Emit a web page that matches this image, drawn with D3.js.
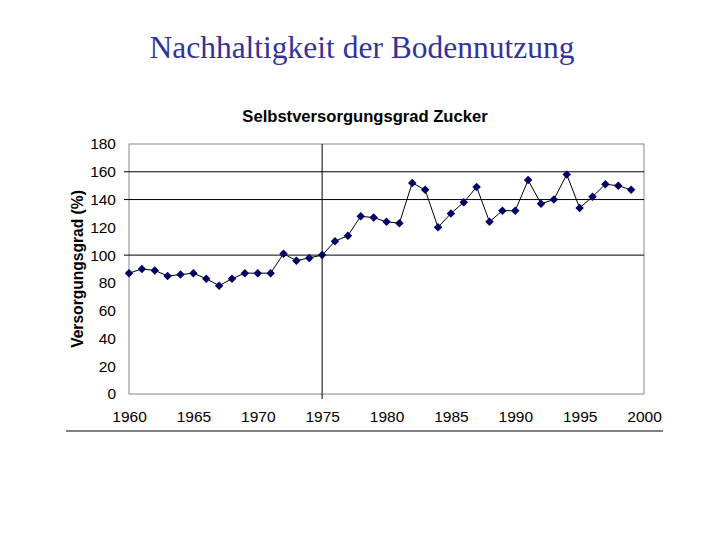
<!DOCTYPE html>
<html>
<head>
<meta charset="utf-8">
<script src="https://cdn.jsdelivr.net/npm/d3@7"></script>
<style>
  body { margin: 0; background: #fff; }
</style>
</head>
<body>
<div id="chart"></div>
<script>
// Selbstversorgungsgrad Zucker, 1960-1999 (%)
const years = d3.range(1960, 2000);
const values = [87, 90, 89, 85, 86, 87, 83, 78, 83, 87,
                87, 87, 101, 96, 98, 100, 110, 114, 128, 127,
                124, 123, 152, 147, 120, 130, 138, 149, 124, 132,
                132, 154, 137, 140, 158, 134, 142, 151, 150, 147];
const yTicks = [0, 20, 40, 60, 80, 100, 120, 140, 160, 180];
const xTicks = [1960, 1965, 1970, 1975, 1980, 1985, 1990, 1995, 2000];
const gridValues = [100, 140, 160];
const markYear = 1975;

const width = 720, height = 540;
const m = { left: 129, right: 644, top: 144, bottom: 394 };

const svg = d3.select("#chart").append("svg")
  .attr("width", width)
  .attr("height", height);

const x = d3.scaleLinear().domain([1960, 2000]).range([m.left, m.right]);
const y = d3.scaleLinear().domain([0, 180]).range([m.bottom, m.top]);

// Folientitel
svg.append("text")
  .attr("x", 362).attr("y", 58)
  .attr("text-anchor", "middle")
  .attr("font-family", "Liberation Serif, Times New Roman, serif")
  .attr("font-size", 31.5)
  .attr("fill", "#333399")
  .text("Nachhaltigkeit der Bodennutzung");

// Diagrammtitel
svg.append("text")
  .attr("x", 365).attr("y", 122)
  .attr("text-anchor", "middle")
  .attr("font-family", "Liberation Sans, Arial, sans-serif")
  .attr("font-weight", "bold")
  .attr("font-size", 16.6)
  .text("Selbstversorgungsgrad Zucker");

// Rahmen
svg.append("rect")
  .attr("x", m.left).attr("y", m.top)
  .attr("width", m.right - m.left).attr("height", m.bottom - m.top)
  .attr("fill", "none")
  .attr("stroke", "#888")
  .attr("stroke-width", 1);

// Gitterlinien
svg.selectAll(".grid")
  .data(gridValues)
  .enter().append("line")
  .attr("x1", m.left - 5).attr("x2", m.right)
  .attr("y1", d => y(d)).attr("y2", d => y(d))
  .attr("stroke", "#000")
  .attr("stroke-width", 1);

svg.append("line")
  .attr("x1", x(markYear)).attr("x2", x(markYear))
  .attr("y1", m.top).attr("y2", m.bottom + 5)
  .attr("stroke", "#000")
  .attr("stroke-width", 1);

// y-Achse
const yAxis = svg.append("g")
  .attr("transform", `translate(${m.left},0)`)
  .call(d3.axisLeft(y).tickValues(yTicks).tickSize(0).tickPadding(13));
yAxis.select(".domain").remove();
yAxis.selectAll("text")
  .attr("font-family", "Liberation Sans, Arial, sans-serif")
  .attr("font-size", 15.5)
  .attr("fill", "#000");

// x-Achse
const xAxis = svg.append("g")
  .attr("transform", `translate(0,${m.bottom})`)
  .call(d3.axisBottom(x).tickValues(xTicks).tickFormat(d3.format("d")).tickSize(0).tickPadding(17));
xAxis.select(".domain").remove();
xAxis.selectAll("text")
  .attr("font-family", "Liberation Sans, Arial, sans-serif")
  .attr("font-size", 15.5)
  .attr("fill", "#000");

// y-Achsentitel
svg.append("text")
  .attr("transform", `translate(83,${(m.top + m.bottom) / 2}) rotate(-90)`)
  .attr("text-anchor", "middle")
  .attr("font-family", "Liberation Sans, Arial, sans-serif")
  .attr("font-weight", "bold")
  .attr("font-size", 15.6)
  .text("Versorgungsgrad (%)");

// Datenreihe
const series = years.map((yr, i) => ({ year: yr, value: values[i] }));

svg.append("path")
  .datum(series)
  .attr("fill", "none")
  .attr("stroke", "#000")
  .attr("stroke-width", 1)
  .attr("d", d3.line().x(d => x(d.year)).y(d => y(d.value)));

svg.selectAll(".pt")
  .data(series)
  .enter().append("path")
  .attr("transform", d => `translate(${x(d.year)},${y(d.value)}) rotate(45)`)
  .attr("d", d3.symbol().type(d3.symbolSquare).size(36))
  .attr("fill", "#000066");

// Trennlinie unten
svg.append("line")
  .attr("x1", 66).attr("x2", 663)
  .attr("y1", 431).attr("y2", 431)
  .attr("stroke", "#000")
  .attr("stroke-width", 1.2);
</script>
</body>
</html>
